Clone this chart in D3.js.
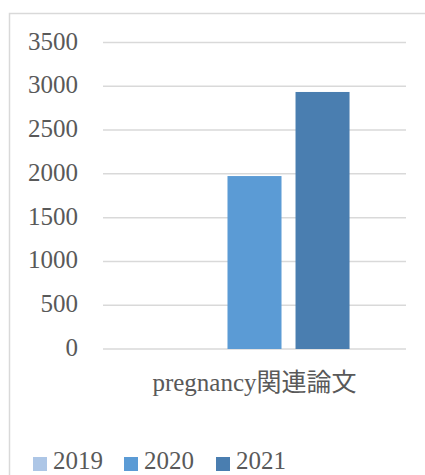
<!DOCTYPE html>
<html>
<head>
<meta charset="utf-8">
<script src="https://cdn.jsdelivr.net/npm/d3@7"></script>
<style>
  body { margin: 0; background: #fff; }
  text { font-family: "Liberation Serif", "Noto Sans CJK JP", serif; fill: #595959; }
</style>
</head>
<body>
<svg id="bg" width="425" height="475"></svg>
<script>
// data
var categories = ['pregnancy関連論文'];
var years = ['2019', '2020', '2021'];
var values = [0, 1975, 2935];
var yTicks = [0, 500, 1000, 1500, 2000, 2500, 3000, 3500];
var colors = ['#adc6e6', '#5b9bd5', '#4a7eb0'];

var svg = d3.select('#bg');

// chart border (cropped on right/bottom)
svg.append('rect')
  .attr('x', 9.5)
  .attr('y', 13.5)
  .attr('width', 440)
  .attr('height', 480)
  .attr('fill', 'none')
  .attr('stroke', '#d9d9d9')
  .attr('stroke-width', 1.5);

var yScale = d3.scaleLinear()
  .domain([0, 3500])
  .range([349, 42.5]);

var xScale = d3.scaleBand()
  .domain(categories)
  .range([103, 406]);

var inner = d3.scaleBand()
  .domain(years)
  .range([0, xScale.bandwidth()])
  .paddingInner(0.206)
  .paddingOuter(0.83);

// gridlines
svg.selectAll('.grid')
  .data(yTicks)
  .join('line')
  .attr('class', 'grid')
  .attr('x1', 103)
  .attr('x2', 406)
  .attr('y1', d => yScale(d))
  .attr('y2', d => yScale(d))
  .attr('stroke', '#d9d9d9')
  .attr('stroke-width', 1.5);

// y labels
svg.selectAll('.ylab')
  .data(yTicks)
  .join('text')
  .attr('class', 'ylab')
  .attr('x', 78)
  .attr('y', d => yScale(d) + 7)
  .attr('text-anchor', 'end')
  .attr('font-size', 25)
  .text(d => d);

// bars
var cat = categories[0];
svg.selectAll('.bar')
  .data(values)
  .join('rect')
  .attr('class', 'bar')
  .attr('x', (d, i) => xScale(cat) + inner(years[i]))
  .attr('width', inner.bandwidth())
  .attr('y', d => yScale(d))
  .attr('height', d => yScale(0) - yScale(d))
  .attr('fill', (d, i) => colors[i]);

// category label
svg.append('text')
  .attr('x', xScale(cat) + xScale.bandwidth() / 2)
  .attr('y', 391)
  .attr('text-anchor', 'middle')
  .attr('font-size', 25)
  .text(cat);

// legend
var legX = [33, 124, 216];
var leg = svg.selectAll('.leg')
  .data(years)
  .join('g')
  .attr('class', 'leg')
  .attr('transform', (d, i) => 'translate(' + legX[i] + ',455)');

leg.append('rect')
  .attr('x', 0)
  .attr('y', 2)
  .attr('width', 14)
  .attr('height', 14)
  .attr('fill', (d, i) => colors[i]);

leg.append('text')
  .attr('x', 20)
  .attr('y', 14)
  .attr('font-size', 25)
  .text(d => d);
</script>
</body>
</html>
